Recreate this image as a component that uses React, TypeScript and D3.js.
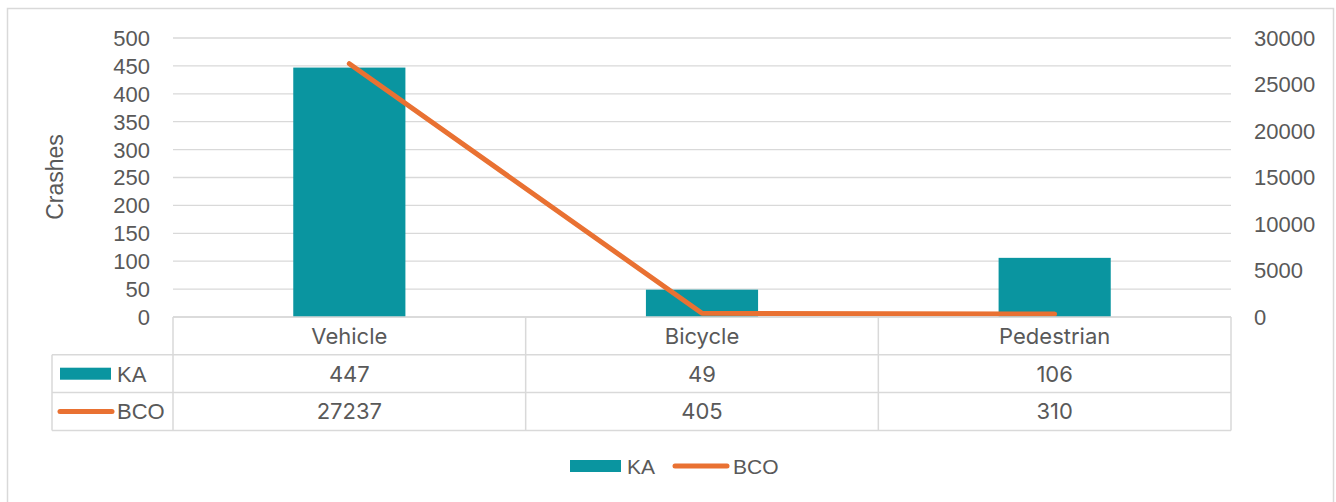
import React, { useRef, useEffect } from 'react';
import * as d3 from 'd3';

// chart data
const categories = ['Vehicle', 'Bicycle', 'Pedestrian'];
const kaValues = [447, 49, 106];
const bcoValues = [27237, 405, 310];
const leftTicks = [0, 50, 100, 150, 200, 250, 300, 350, 400, 450, 500];
const rightTicks = [0, 5000, 10000, 15000, 20000, 25000, 30000];

const TEAL = '#0A95A0';
const ORANGE = '#E97132';
const GRID = '#D9D9D9';
const TEXT = '#595959';
const FONT = '"Liberation Sans", Arial, sans-serif';
const TABLE_FONT = 'Inter, "Liberation Sans", sans-serif';

const App = () => {
  const svgRef = useRef<SVGSVGElement>(null);

  useEffect(() => {
    const width = 1336;
    const height = 502;
    const plot = { left: 173, right: 1231, top: 38, bottom: 317 };
    const rowH = 37.8;
    const tableLeft = 52;

    const svg = d3.select(svgRef.current);
    svg.selectAll('*').remove();

    // outer frame
    svg.append('rect')
      .attr('x', 7.5).attr('y', 8.5)
      .attr('width', width - 10).attr('height', height)
      .attr('fill', '#fff')
      .attr('stroke', GRID).attr('stroke-width', 1.5);

    const x = d3.scaleBand<string>()
      .domain(categories)
      .range([plot.left, plot.right])
      .paddingInner(0.682)
      .paddingOuter(0.341);
    const xCenter = (c: string) => (x(c) as number) + x.bandwidth() / 2;
    const colW = (plot.right - plot.left) / categories.length;

    const yLeft = d3.scaleLinear().domain([0, 500]).range([plot.bottom, plot.top]);
    const yRight = d3.scaleLinear().domain([0, 30000]).range([plot.bottom, plot.top]);

    // gridlines
    svg.append('g')
      .selectAll('line')
      .data(leftTicks)
      .enter()
      .append('line')
        .attr('x1', plot.left).attr('x2', plot.right)
        .attr('y1', d => yLeft(d)).attr('y2', d => yLeft(d))
        .attr('stroke', GRID).attr('stroke-width', 1.3);

    // left axis labels
    svg.append('g')
      .selectAll('text')
      .data(leftTicks)
      .enter()
      .append('text')
        .attr('x', 150)
        .attr('y', d => yLeft(d))
        .attr('dy', '0.36em')
        .attr('text-anchor', 'end')
        .attr('fill', TEXT)
        .style('font-family', FONT)
        .style('font-size', '22px')
        .text(d => d);

    // right axis labels
    svg.append('g')
      .selectAll('text')
      .data(rightTicks)
      .enter()
      .append('text')
        .attr('x', 1254)
        .attr('y', d => yRight(d))
        .attr('dy', '0.36em')
        .attr('text-anchor', 'start')
        .attr('fill', TEXT)
        .style('font-family', FONT)
        .style('font-size', '22px')
        .text(d => d);

    // axis title
    svg.append('text')
      .attr('transform', `translate(63,177) rotate(-90)`)
      .attr('text-anchor', 'middle')
      .attr('fill', TEXT)
      .style('font-family', FONT)
      .style('font-size', '23px')
      .text('Crashes');

    // bars
    svg.append('g')
      .selectAll('rect')
      .data(categories)
      .enter()
      .append('rect')
        .attr('x', d => x(d) as number)
        .attr('width', x.bandwidth())
        .attr('y', (d, i) => yLeft(kaValues[i]))
        .attr('height', (d, i) => plot.bottom - yLeft(kaValues[i]))
        .attr('fill', TEAL);

    // line
    const line = d3.line<number>()
      .x((d, i) => xCenter(categories[i]))
      .y(d => yRight(d));
    svg.append('path')
      .datum(bcoValues)
      .attr('d', line)
      .attr('fill', 'none')
      .attr('stroke', ORANGE)
      .attr('stroke-width', 5)
      .attr('stroke-linecap', 'round')
      .attr('stroke-linejoin', 'round');

    // data table
    const table = svg.append('g');
    const tTop = plot.bottom;
    const tBottom = tTop + rowH * 3;
    const hl = (x1: number, x2: number, y: number) => table.append('line')
      .attr('x1', x1).attr('x2', x2).attr('y1', y).attr('y2', y)
      .attr('stroke', GRID).attr('stroke-width', 1.5);
    const vl = (xx: number, y1: number, y2: number) => table.append('line')
      .attr('x1', xx).attr('x2', xx).attr('y1', y1).attr('y2', y2)
      .attr('stroke', GRID).attr('stroke-width', 1.5);

    hl(plot.left, plot.right, tTop);
    hl(tableLeft, plot.right, tTop + rowH);
    hl(tableLeft, plot.right, tTop + rowH * 2);
    hl(tableLeft, plot.right, tBottom);
    vl(tableLeft, tTop + rowH, tBottom);
    for (let i = 0; i <= categories.length; i++) {
      vl(plot.left + colW * i, tTop, tBottom);
    }

    const rows = [categories.map(String), kaValues.map(String), bcoValues.map(String)];
    rows.forEach((row, r) => {
      row.forEach((v, i) => {
        table.append('text')
          .attr('x', xCenter(categories[i]))
          .attr('y', tTop + rowH * r + rowH / 2)
          .attr('dy', '0.36em')
          .attr('text-anchor', 'middle')
          .attr('fill', TEXT)
          .style('font-family', TABLE_FONT)
          .style('font-size', '22px')
          .text(v);
      });
    });

    // row keys
    const keyY1 = tTop + rowH * 1.5;
    const keyY2 = tTop + rowH * 2.5;
    table.append('rect')
      .attr('x', 60).attr('y', keyY1 - 6).attr('width', 51).attr('height', 12)
      .attr('fill', TEAL);
    table.append('line')
      .attr('x1', 60).attr('x2', 112).attr('y1', keyY2).attr('y2', keyY2)
      .attr('stroke', ORANGE).attr('stroke-width', 5).attr('stroke-linecap', 'round');
    [['KA', keyY1], ['BCO', keyY2]].forEach(([t, yy]) => {
      table.append('text')
        .attr('x', 117).attr('y', yy as number).attr('dy', '0.36em')
        .attr('fill', TEXT)
        .style('font-family', FONT)
        .style('font-size', '22px')
        .text(t as string);
    });

    // legend
    const legY = 466;
    const legend = svg.append('g');
    legend.append('rect')
      .attr('x', 570).attr('y', legY - 6).attr('width', 51).attr('height', 12)
      .attr('fill', TEAL);
    legend.append('text')
      .attr('x', 627).attr('y', legY).attr('dy', '0.36em')
      .attr('fill', TEXT).style('font-family', FONT).style('font-size', '21px')
      .text('KA');
    legend.append('line')
      .attr('x1', 675).attr('x2', 727).attr('y1', legY).attr('y2', legY)
      .attr('stroke', ORANGE).attr('stroke-width', 5).attr('stroke-linecap', 'round');
    legend.append('text')
      .attr('x', 733).attr('y', legY).attr('dy', '0.36em')
      .attr('fill', TEXT).style('font-family', FONT).style('font-size', '21px')
      .text('BCO');
  }, [svgRef]);

  return (
    <div style={{ position: 'absolute', left: 0, top: 0 }}>
      <svg ref={svgRef} width={1336} height={502} style={{ display: 'block' }}></svg>
    </div>
  );
};

export default App;
